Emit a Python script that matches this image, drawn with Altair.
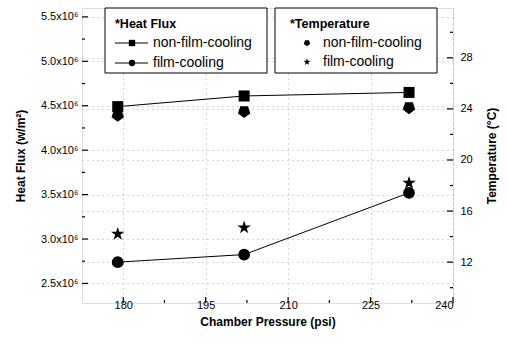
import altair as alt
import pandas as pd

# ---- data ----
pressure = [179, 202, 232]
hf_non_film = [4.49e6, 4.61e6, 4.65e6]
hf_film = [2.74e6, 2.825e6, 3.52e6]
temp_non_film = [23.5, 23.8, 24.1]
temp_film = [14.2, 14.7, 18.2]

x_ticks = [180, 195, 210, 225, 240]
x_minor = [187.5, 202.5, 217.5, 232.5]
hf_ticks = [2.5e6, 3.0e6, 3.5e6, 4.0e6, 4.5e6, 5.0e6, 5.5e6]
hf_minor = [2.75e6, 3.25e6, 3.75e6, 4.25e6, 4.75e6, 5.25e6]
t_ticks = [12, 16, 20, 24, 28]
t_minor = [10, 14, 18, 22, 26, 30]

FONT = "Liberation Sans"
W, H = 371, 295

STAR = ("M0,-1L0.225,-0.309L0.951,-0.309L0.363,0.118L0.588,0.809L0,0.382"
        "L-0.588,0.809L-0.363,0.118L-0.951,-0.309L-0.225,-0.309Z")
PENT = "M0,1L0.951,0.309L0.588,-0.809L-0.588,-0.809L-0.951,0.309Z"

x_scale = alt.Scale(domain=[172.5, 240], nice=False, zero=False)
yl_scale = alt.Scale(domain=[2.28e6, 5.6e6], nice=False, zero=False)
yr_scale = alt.Scale(domain=[8.8, 31.9], nice=False, zero=False)

grid_kw = dict(grid=True, gridDash=[1, 4], gridColor="#9a9a9a", gridWidth=1, gridOpacity=0.8)

x_axis = alt.Axis(values=x_ticks, format="d", title="Chamber Pressure (psi)",
                  ticks=False, tickSize=0, domain=False, labelFontSize=11, labelPadding=-4,
                  titleFontSize=12, titleFontWeight="bold", titlePadding=6,
                  labelColor="black", titleColor="black", labelFont=FONT, titleFont=FONT,
                  **grid_kw)
yl_axis = alt.Axis(values=hf_ticks,
                   labelExpr="format(datum.value/1000000,'.1f') + 'x10\u2076'",
                   title="Heat Flux (w/m\u00b2)", ticks=False, tickSize=0, domain=False,
                   labelFontSize=11, labelPadding=4, titleFontSize=12,
                   titleFontWeight="bold", titlePadding=13, labelColor="black",
                   titleColor="black", labelFont=FONT, titleFont=FONT, **grid_kw)
yr_axis = alt.Axis(values=t_ticks, orient="right", title="Temperature (\u00b0C)",
                   ticks=False, tickSize=0, domain=False, labelFontSize=11, labelPadding=7,
                   titleFontSize=12, titleFontWeight="bold", titlePadding=26,
                   titleAngle=270, labelColor="black", titleColor="black",
                   labelFont=FONT, titleFont=FONT, **grid_kw)

X = alt.X("p:Q", scale=x_scale, axis=x_axis)
YL = alt.Y("v:Q", scale=yl_scale, axis=yl_axis)
YR = alt.Y("v:Q", scale=yr_scale, axis=yr_axis)

df_hf_non = pd.DataFrame({"p": pressure, "v": hf_non_film})
df_hf_film = pd.DataFrame({"p": pressure, "v": hf_film})
df_t_non = pd.DataFrame({"p": pressure, "v": temp_non_film})
df_t_film = pd.DataFrame({"p": pressure, "v": temp_film})

# ---- left group: heat flux ----
line_non = alt.Chart(df_hf_non).mark_line(color="black", strokeWidth=1).encode(x=X, y=YL)
pts_non = alt.Chart(df_hf_non).mark_point(shape="square", filled=True, size=121,
                                          color="black", opacity=1).encode(x=X, y=YL)
line_film = alt.Chart(df_hf_film).mark_line(color="black", strokeWidth=1).encode(x=X, y=YL)
pts_film = alt.Chart(df_hf_film).mark_point(shape="circle", filled=True, size=140,
                                            color="black", opacity=1).encode(x=X, y=YL)
lt_major = alt.Chart(pd.DataFrame({"v": hf_ticks})).mark_rule(color="black", strokeWidth=1.2).encode(
    y=YL, x=alt.value(0), x2=alt.value(6))
lt_minor = alt.Chart(pd.DataFrame({"v": hf_minor})).mark_rule(color="black", strokeWidth=1.2).encode(
    y=YL, x=alt.value(0), x2=alt.value(3))
xt_major = alt.Chart(pd.DataFrame({"p": x_ticks})).mark_rule(color="black", strokeWidth=1.2).encode(
    x=X, y=alt.value(H), y2=alt.value(H - 6))
xt_minor = alt.Chart(pd.DataFrame({"p": x_minor})).mark_rule(color="black", strokeWidth=1.2).encode(
    x=X, y=alt.value(H), y2=alt.value(H - 3))
left = alt.layer(lt_major, lt_minor, xt_major, xt_minor, line_non, line_film, pts_non, pts_film)

# ---- right group: temperature ----
pts_tnon = alt.Chart(df_t_non).mark_point(shape=PENT, filled=True, size=170,
                                          color="black", opacity=1).encode(x=X, y=YR)
pts_tfilm = alt.Chart(df_t_film).mark_point(shape=STAR, filled=True, size=200,
                                            color="black", opacity=1).encode(x=X, y=YR)
rt_major = alt.Chart(pd.DataFrame({"v": t_ticks})).mark_rule(color="black", strokeWidth=1.2).encode(
    y=YR, x=alt.value(W), x2=alt.value(W - 6))
rt_minor = alt.Chart(pd.DataFrame({"v": t_minor})).mark_rule(color="black", strokeWidth=1.2).encode(
    y=YR, x=alt.value(W), x2=alt.value(W - 3))
right = alt.layer(rt_major, rt_minor, pts_tnon, pts_tfilm)

# ---- legends (drawn as annotation layers) ----
one = pd.DataFrame({"a": [0]})


def box(x1, x2, y1, y2):
    return alt.Chart(one).mark_rect(fill="white", stroke="black", strokeWidth=1).encode(
        x=alt.value(x1), x2=alt.value(x2), y=alt.value(y1), y2=alt.value(y2))


def label(txt, x, y, bold=False, size=14):
    return alt.Chart(one).mark_text(text=txt, align="left", baseline="middle",
                                    font=FONT, fontSize=size, color="black",
                                    fontWeight="bold" if bold else "normal").encode(
        x=alt.value(x), y=alt.value(y))


def seg(x1, x2, y):
    return alt.Chart(one).mark_rule(color="black", strokeWidth=1).encode(
        x=alt.value(x1), x2=alt.value(x2), y=alt.value(y))


def sym(shape, x, y, size):
    return alt.Chart(one).mark_point(shape=shape, filled=True, size=size, color="black",
                                     opacity=1).encode(x=alt.value(x), y=alt.value(y))


legend = alt.layer(
    box(23, 185, 0, 65),
    label("*Heat Flux", 33, 16, bold=True, size=12.5),
    seg(33, 66, 35), sym("square", 50, 35, 40), label("non-film-cooling", 71, 35),
    seg(33, 66, 55), sym("circle", 50, 55, 40), label("film-cooling", 71, 55),
    box(193, 355, 0, 65),
    label("*Temperature", 208, 16, bold=True, size=12.5),
    sym(PENT, 225, 35, 45), label("non-film-cooling", 241, 35),
    sym(STAR, 225, 54, 55), label("film-cooling", 241, 54),
)

chart = alt.layer(left, right, legend).resolve_scale(y="independent").properties(
    width=W, height=H,
    padding={"left": 82, "top": 8, "right": 55, "bottom": 46},
    autosize="none",
).configure_view(stroke="black", strokeWidth=1.5).configure(font=FONT, background="white")

chart.save("out.html", embed_options={"renderer": "svg", "actions": False})
